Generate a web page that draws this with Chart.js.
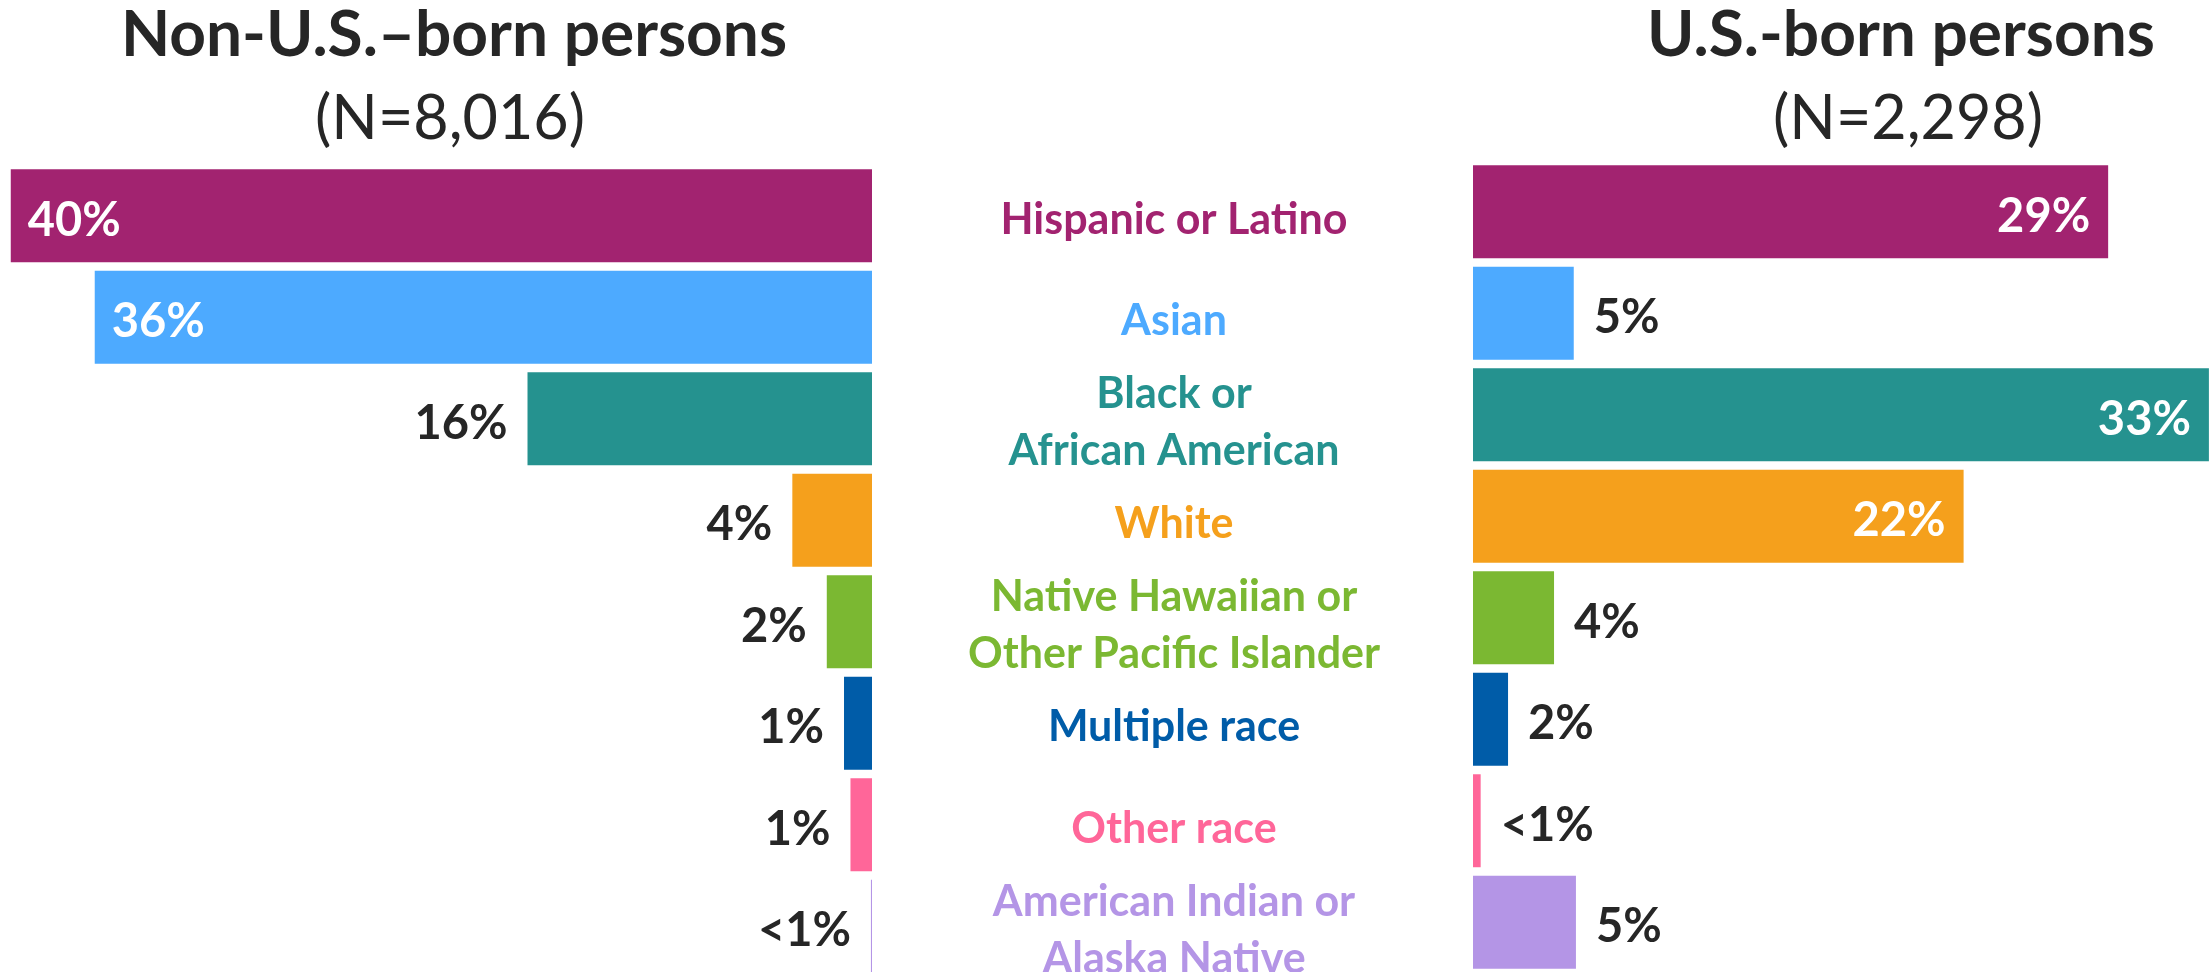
<!DOCTYPE html>
<html>
<head>
<meta charset="utf-8">
<script src="https://cdn.jsdelivr.net/npm/chart.js@4.4.1/dist/chart.umd.min.js"></script>
<style>
html, body { margin: 0; padding: 0; background: #fff; overflow: hidden; width: 2210px; height: 972px; }
.box { position: absolute; }
.tit { position: absolute; width: 900px; text-align: center; color: #262626; font-family: Lato, 'Open Sans', sans-serif; white-space: nowrap; }
.t1 { font-weight: bold; font-size: 64px; line-height: 64px; }
.t2 { font-weight: normal; font-size: 61px; line-height: 61px; }
</style>
</head>
<body>

<div class="tit t1" style="left:4px; top:0px;">Non-U.S.–born persons</div>
<div class="tit t2" style="left:0px; top:85px;">(N=8,016)</div>
<div class="tit t1" style="left:1451px; top:0px;">U.S.-born persons</div>
<div class="tit t2" style="left:1458px; top:85px;">(N=2,298)</div>

<div class="box" style="left:0px; top:165px;"><canvas id="sinistra" width="872" height="812"></canvas></div>
<div class="box" style="left:872px; top:161px;"><canvas id="destra" width="1338" height="812"></canvas></div>

<script>
// categorie (in mezzo)
var categorie = [
    'Hispanic or Latino',
    'Asian',
    ['Black or', 'African American'],
    'White',
    ['Native Hawaiian or', 'Other Pacific Islander'],
    'Multiple race',
    'Other race',
    ['American Indian or', 'Alaska Native']
];
var colori = ['#A22370', '#4DAAFF', '#25928F', '#F5A01C', '#7BB832', '#005CA8', '#FF6699', '#B495E6'];

// non nati negli USA (N=8,016)
var valoriNonUS = [40.0, 36.1, 16.0, 3.7, 2.1, 1.3, 1.0, 0.05];
var etichetteNonUS = ['40%', '36%', '16%', '4%', '2%', '1%', '1%', '<1%'];

// nati negli USA (N=2,298)
var valoriUS = [29.0, 4.6, 33.6, 22.4, 3.7, 1.6, 0.35, 4.7];
var etichetteUS = ['29%', '5%', '33%', '22%', '4%', '2%', '<1%', '5%'];

var fontLato = 'Lato, "Open Sans", sans-serif';

// plugin per scrivere le percentuali sulle barre
function pluginEtichette(testi, lato) {
    return {
        id: 'etichette',
        afterDatasetsDraw: function(chart) {
            var ctx = chart.ctx;
            var meta = chart.getDatasetMeta(0);
            var valori = chart.data.datasets[0].data;
            ctx.save();
            ctx.font = 'bold 47px ' + fontLato;
            ctx.textBaseline = 'alphabetic';
            for (var i = 0; i < meta.data.length; i++) {
                var barra = meta.data[i];
                var y = barra.y + 20;
                var dentro = valori[i] > 20;
                if (lato == 'sinistra') {
                    if (dentro) {
                        ctx.fillStyle = '#ffffff';
                        ctx.textAlign = 'left';
                        ctx.fillText(testi[i], barra.x + 17, y);
                    } else {
                        ctx.fillStyle = '#262626';
                        ctx.textAlign = 'right';
                        ctx.fillText(testi[i], barra.x - 20, y);
                    }
                } else {
                    if (dentro) {
                        ctx.fillStyle = '#ffffff';
                        ctx.textAlign = 'right';
                        ctx.fillText(testi[i], barra.x - 18, y);
                    } else {
                        ctx.fillStyle = '#262626';
                        ctx.textAlign = 'left';
                        ctx.fillText(testi[i], barra.x + 20, y);
                    }
                }
            }
            ctx.restore();
        }
    };
}

// misuro la riga piu larga per centrare le categorie a x=1174
var dimCategorie = 43;
var misura = document.createElement('canvas').getContext('2d');
misura.font = 'bold ' + dimCategorie + 'px ' + fontLato;
var largMax = 0;
for (var i = 0; i < categorie.length; i++) {
    var righe = Array.isArray(categorie[i]) ? categorie[i] : [categorie[i]];
    for (var j = 0; j < righe.length; j++) {
        largMax = Math.max(largMax, misura.measureText(righe[j]).width);
    }
}
var larghezzaAsse = 601;
var centroTesto = 1174 - 872;
var padTesto = larghezzaAsse - centroTesto - largMax / 2;

new Chart(document.getElementById('sinistra'), {
    type: 'bar',
    data: {
        labels: categorie,
        datasets: [{
            data: valoriNonUS,
            backgroundColor: colori,
            barPercentage: 0.916,
            categoryPercentage: 1
        }]
    },
    options: {
        indexAxis: 'y',
        responsive: false,
        animation: false,
        devicePixelRatio: 1,
        layout: { padding: 0 },
        scales: {
            x: { display: false, min: 0, max: 40.5, reverse: true },
            y: { display: false }
        },
        plugins: { legend: { display: false }, tooltip: { enabled: false } }
    },
    plugins: [pluginEtichette(etichetteNonUS, 'sinistra')]
});

new Chart(document.getElementById('destra'), {
    type: 'bar',
    data: {
        labels: categorie,
        datasets: [{
            data: valoriUS,
            backgroundColor: colori,
            barPercentage: 0.916,
            categoryPercentage: 1
        }]
    },
    options: {
        indexAxis: 'y',
        responsive: false,
        animation: false,
        devicePixelRatio: 1,
        layout: { padding: 0 },
        scales: {
            x: { display: false, min: 0, max: 33.65 },
            y: {
                position: 'left',
                grid: { display: false, drawTicks: false },
                border: { display: false },
                afterFit: function(scala) {
                    scala.width = larghezzaAsse;
                    scala.paddingTop = 0;        // altrimenti il padding delle etichette schiaccia le barre
                    scala.paddingBottom = 0;
                },
                ticks: {
                    autoSkip: false,
                    crossAlign: 'center',
                    padding: padTesto,
                    labelOffset: 8,
                    font: { family: fontLato, size: dimCategorie, weight: 'bold', lineHeight: 1.33 },
                    color: function(c) { return colori[c.index]; }
                }
            }
        },
        plugins: { legend: { display: false }, tooltip: { enabled: false } }
    },
    plugins: [pluginEtichette(etichetteUS, 'destra')]
});
</script>
</body>
</html>
